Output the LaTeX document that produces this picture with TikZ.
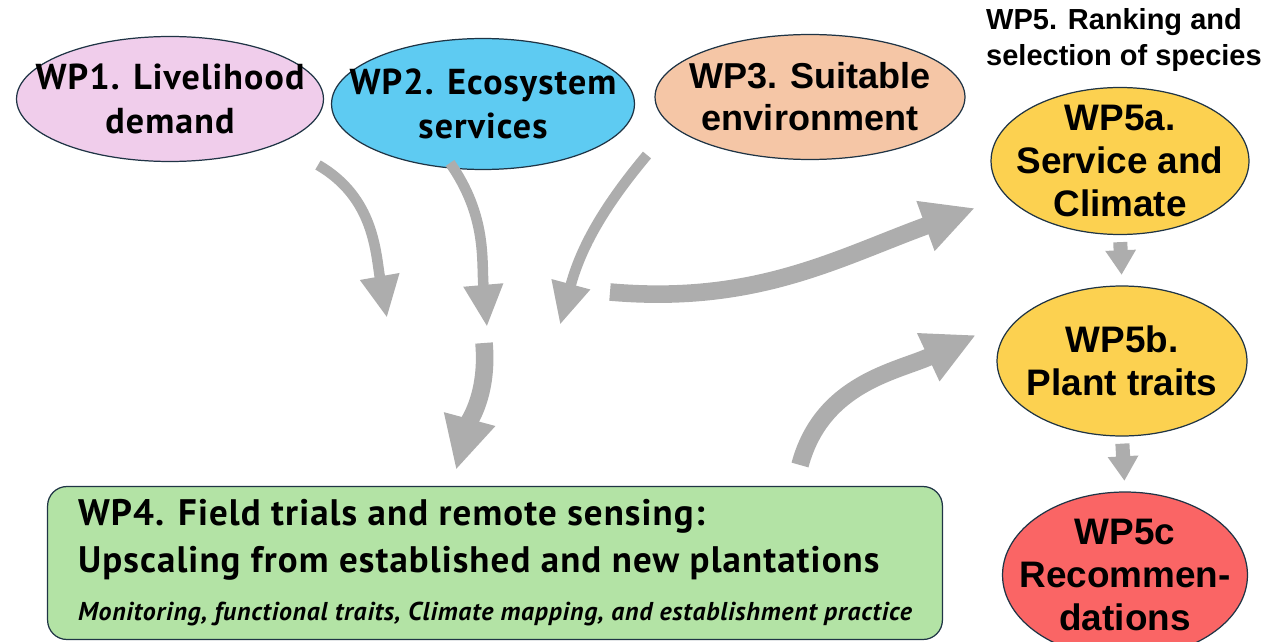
\documentclass[tikz,border=0pt]{standalone}
\usepackage{fontspec}
\usepackage{xcolor}
\usepackage{tikz}
\usetikzlibrary{shapes.geometric, arrows.meta, positioning, calc}
\setmainfont{Liberation Sans}
\newfontfamily\narrowfont[LetterSpace=3]{PT Sans}
\definecolor{wpink}{HTML}{F0CDEB}
\definecolor{wblue}{HTML}{5ECBF2}
\definecolor{wpeach}{HTML}{F5C6A6}
\definecolor{wyellow}{HTML}{FCD150}
\definecolor{wred}{HTML}{FA6565}
\definecolor{wgreen}{HTML}{B3E3A5}
\definecolor{wborder}{HTML}{1F3445}
\definecolor{flowgray}{HTML}{ADADAD}
\tikzset{
  wpoval/.style={
    ellipse, draw=wborder, line width=0.7pt,
    inner sep=-30pt, text centered, align=center,
    font=\bfseries\fontsize{21}{24.5}\selectfont,
  },
  wpnarrow/.style={
    font=\narrowfont\bfseries\fontsize{20.5}{25}\selectfont,
  },
  wpbox/.style={
    rectangle, rounded corners=11pt, draw=wborder, line width=0.7pt,
    fill=wgreen, align=left,
    font=\narrowfont\bfseries\fontsize{21}{26.5}\selectfont,
  },
  flow/.style={draw=flowgray, line width=6pt,
    -{Triangle[width=21pt,length=24pt]}},
  bigflow/.style={draw=flowgray, line width=10pt,
    -{Triangle[width=28pt,length=30pt]}},
  stepflow/.style={draw=flowgray, line width=8pt,
    -{Triangle[width=16.5pt,length=14pt]}, shorten >=6pt, shorten <=4pt},
}

\begin{document}
\begin{tikzpicture}[x=0.02cm, y=0.02cm]
  \useasboundingbox (0,0) rectangle (1271,-642);

  % input work packages
  \node[wpoval, wpnarrow, fill=wpink, minimum width=6.14cm, minimum height=2.5cm]
    (wp1) at (170,-99) {WP1. Livelihood\\demand};
  \node[wpoval, wpnarrow, fill=wblue, minimum width=6.06cm, minimum height=2.62cm]
    (wp2) at (483,-104) {WP2. Ecosystem\\services};
  \node[wpoval, fill=wpeach, minimum width=6.2cm, minimum height=2.5cm,
    font=\bfseries\fontsize{20.5}{24}\selectfont]
    (wp3) at (810,-97) {WP3. Suitable\\environment};

  % ranking and selection
  \node[anchor=north west, align=left, font=\bfseries\fontsize{16.5}{20.5}\selectfont]
    (wp5) at (980,-2) {WP5. Ranking and\\selection of species};
  \node[wpoval, fill=wyellow, minimum width=5.16cm, minimum height=2.94cm]
    (wp5a) at (1120,-161) {WP5a.\\Service and\\Climate};
  \node[wpoval, fill=wyellow, minimum width=5.0cm, minimum height=3.0cm]
    (wp5b) at (1122,-361) {WP5b.\\Plant traits};
  \node[wpoval, fill=wred, minimum width=4.9cm, minimum height=3.32cm]
    (wp5c) at (1125,-575) {WP5c\\Recommen-\\dations};

  % field trials
  \node[wpbox, minimum width=17.9cm, minimum height=3.06cm]
    (wp4) at (495,-563) {%
    WP4. Field trials and remote sensing:\\
    Upscaling from established and new plantations\\[1pt]
    {\itshape\fontsize{14.7}{17}\selectfont Monitoring, functional traits, Climate mapping, and establishment practice}};

  % free ends of the flows
  \coordinate (t1) at (318,-165);
  \coordinate (h1) at (387,-318);
  \coordinate (t2) at (450,-163);
  \coordinate (h2) at (487,-327);
  \coordinate (t3) at (647,-155);
  \coordinate (h3) at (560,-325);
  \coordinate (mix) at (610,-292);
  \coordinate (h4) at (975,-208);
  \coordinate (t5) at (484,-343);
  \coordinate (h5) at (456,-470);
  \coordinate (t6) at (800,-465);
  \coordinate (h6) at (976,-335);

  \draw[flow] (t1) to[out=-30, in=100] (h1);
  \draw[flow] (t2) to[out=-55, in=95] (h2);
  \draw[flow] (t3) to[out=-130, in=75] (h3);
  \draw[bigflow] (mix) to[out=-5, in=200] (h4);
  \draw[bigflow] (t5) to[out=-85, in=75] (h5);
  \draw[bigflow] (t6) to[out=75, in=205] (h6);
  \draw[stepflow] (wp5a.south) -- (wp5b.north);
  \draw[stepflow] (wp5b.south) -- (wp5c.north);

\end{tikzpicture}
\end{document}
